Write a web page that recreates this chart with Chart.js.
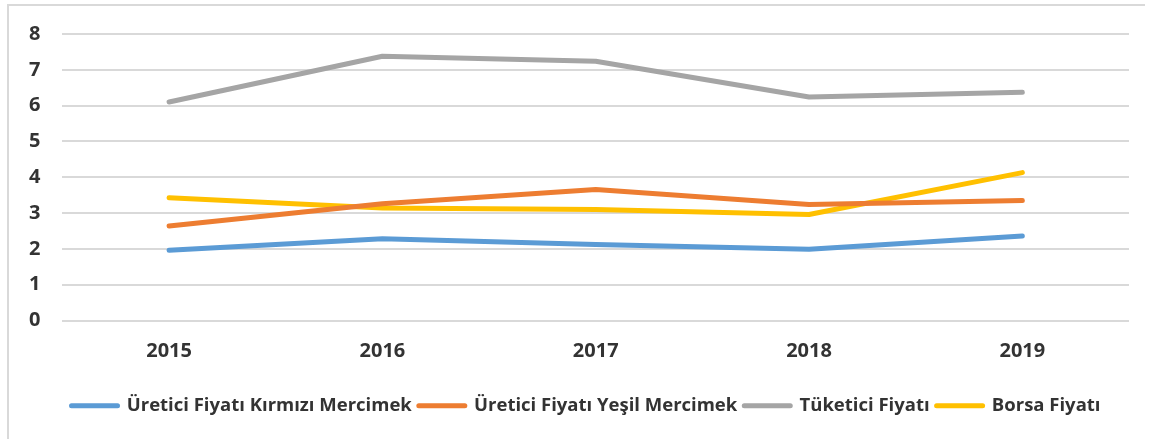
<!DOCTYPE html>
<html>
<head>
<meta charset="utf-8">
<script src="https://cdn.jsdelivr.net/npm/chart.js@4"></script>
<style>
  body { margin: 0; background: #fff; overflow: hidden; }
  #wrap {
    position: absolute; left: 7px; top: 4px;
    width: 1138px; height: 435px;
    border-left: 2px solid #d9d9d9; border-top: 2px solid #d9d9d9;
    box-sizing: border-box;
  }
</style>
</head>
<body>
<div id="wrap"><canvas id="chart"></canvas></div>
<script>
// Yıllar ve fiyat serileri
const years = ['2015', '2016', '2017', '2018', '2019'];
const kirmiziMercimek = [1.96, 2.28, 2.12, 1.99, 2.36];
const yesilMercimek = [2.64, 3.26, 3.66, 3.24, 3.35];
const tuketiciFiyati = [6.10, 7.38, 7.24, 6.24, 6.37];
const borsaFiyati = [3.43, 3.14, 3.10, 2.96, 4.13];

const seriesNames = ['Üretici Fiyatı Kırmızı Mercimek', 'Üretici Fiyatı Yeşil Mercimek', 'Tüketici Fiyatı', 'Borsa Fiyatı'];
const seriesColors = ['#5B9BD5', '#ED7D31', '#A5A5A5', '#FFC000'];
const seriesData = [kirmiziMercimek, yesilMercimek, tuketiciFiyati, borsaFiyati];

Chart.defaults.font.family = '"Open Sans", sans-serif';
Chart.defaults.font.weight = 'bold';
Chart.defaults.color = '#333';

// legend sits a bit right of the canvas centre in the original
const legendShift = {
    id: 'legendShift',
    afterLayout(chart) {
        chart.legend.left += 15;
        chart.legend.right += 15;
    }
};

const ctx = document.getElementById('chart').getContext('2d');
const chart = new Chart(ctx, {
    type: 'line',
    data: {
        labels: years,
        datasets: seriesData.map((d, i) => ({
            label: seriesNames[i],
            data: d,
            borderColor: seriesColors[i],
            backgroundColor: seriesColors[i],
            borderWidth: 5,
            borderCapStyle: 'round',
            borderJoinStyle: 'round',
            pointRadius: 0,
            tension: 0,
            fill: false,
        }))
    },
    options: {
        responsive: true,
        maintainAspectRatio: false,
        animation: false,
        layout: { padding: { left: 4, right: 16, top: 0, bottom: 14 } },
        plugins: {
            tooltip: { enabled: false },
            legend: {
                position: 'bottom',
                labels: {
                    usePointStyle: true,
                    pointStyleWidth: 46,
                    padding: 7,
                    font: { size: 18.5, weight: 'bold' },
                    color: '#333',
                    generateLabels: (c) => c.data.datasets.map((ds, i) => ({
                        text: ds.label,
                        fillStyle: ds.borderColor,
                        strokeStyle: ds.borderColor,
                        lineWidth: 5,
                        lineCap: 'round',
                        pointStyle: 'line',
                        datasetIndex: i,
                        fontColor: '#333',
                    })),
                },
            },
        },
        scales: {
            x: {
                offset: true,
                grid: { display: false },
                border: { display: false },
                ticks: { font: { size: 20, weight: 'bold' }, padding: 11 },
                // extra room between year labels and legend
                afterFit: (scale) => { scale.height += 15; },
            },
            y: {
                min: 0,
                max: 8,
                ticks: { stepSize: 1, font: { size: 20, weight: 'bold' }, padding: 16 },
                grid: { color: '#d9d9d9', lineWidth: 2, drawTicks: true, tickLength: 6, tickColor: 'rgba(0,0,0,0)' },
                border: { display: false },
            },
        },
    },
    plugins: [legendShift],
});
</script>
</body>
</html>
